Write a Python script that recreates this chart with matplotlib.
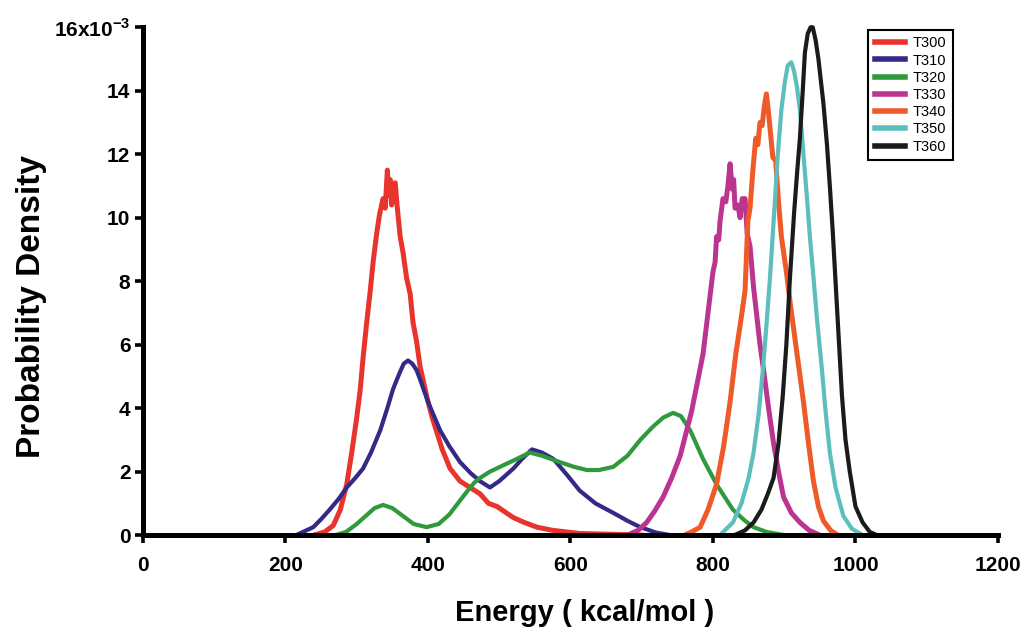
import numpy as np
import matplotlib
matplotlib.use("Agg")
import matplotlib.pyplot as plt

plt.rcParams["font.family"] = ["Liberation Sans", "DejaVu Sans"]

# energy (kcal/mol) and probability density (x1e-3)
e300 = [240, 255, 267, 277, 286, 293, 300, 305, 309, 314, 319, 323, 328, 332, 337, 340, 343, 345,
        347, 349, 351, 354, 357, 361, 365, 370, 375, 379, 384, 389, 394, 399, 406, 413, 420, 431, 445,
        459, 473, 485, 497, 510, 520, 535, 553, 575, 613, 650, 700]
p300 = [0, 0.1, 0.3, 0.8, 1.6, 2.6, 3.7, 4.6, 5.6, 6.7, 7.7, 8.6, 9.5, 10.1, 10.6, 10.3, 11.5, 10.7,
        11.2, 10.4, 11.0, 11.1, 10.3, 9.4, 8.9, 8.1, 7.6, 6.7, 6.1, 5.3, 4.8, 4.3, 3.7, 3.2, 2.7, 2.1, 1.7,
        1.5, 1.3, 1.0, 0.9, 0.7, 0.55, 0.4, 0.25, 0.15, 0.05, 0.03, 0]

e310 = [215, 239, 250, 262, 275, 286, 298, 309, 320, 333, 343, 351, 360, 366, 372, 378, 384, 389,
        400, 417, 430, 445, 460, 473, 487, 500, 510, 520, 532, 546, 560, 576, 595, 613, 635, 660, 680,
        698, 720, 740]
p310 = [0, 0.25, 0.5, 0.8, 1.15, 1.5, 1.8, 2.1, 2.6, 3.3, 4.0, 4.6, 5.1, 5.4, 5.5, 5.4, 5.2, 4.9,
        4.2, 3.3, 2.8, 2.3, 1.95, 1.7, 1.5, 1.7, 1.9, 2.1, 2.4, 2.7, 2.6, 2.4, 1.9, 1.4, 1.0, 0.7, 0.45,
        0.25, 0.08, 0]

e320 = [270, 285, 300, 315, 325, 337, 350, 365, 380, 398, 415, 430, 442, 454, 465, 473, 487, 501,
        520, 543, 560, 585, 605, 623, 640, 660, 680, 698, 715, 730, 744, 755, 768, 786, 805, 828, 845,
        857, 875, 900]
p320 = [0, 0.1, 0.35, 0.65, 0.85, 0.95, 0.85, 0.6, 0.35, 0.25, 0.35, 0.65, 1.0, 1.35, 1.65, 1.8, 2.0,
        2.15, 2.35, 2.6, 2.5, 2.3, 2.15, 2.05, 2.05, 2.15, 2.5, 3.0, 3.4, 3.7, 3.85, 3.75, 3.3, 2.4, 1.6,
        0.8, 0.45, 0.25, 0.1, 0]

e330 = [680, 695, 707, 718, 730, 742, 754, 762, 770, 778, 786, 793, 800, 803, 805, 808, 810, 814,
        818, 821, 824, 827, 829, 831, 835, 838, 841, 845, 848, 852, 857, 862, 866, 871, 878, 885, 892,
        899, 910, 922, 935, 950]
p330 = [0, 0.15, 0.4, 0.75, 1.2, 1.8, 2.5, 3.2, 3.9, 4.8, 5.7, 7.0, 8.3, 8.6, 9.4, 9.3, 9.9, 10.6,
        10.5, 11.0, 11.7, 10.9, 11.2, 10.3, 10.4, 10.0, 10.6, 10.6, 9.5, 9.1, 7.8, 6.8, 6.0, 5.2, 4.0,
        2.9, 2.0, 1.2, 0.7, 0.4, 0.15, 0]

e340 = [760, 770, 782, 793, 805, 815, 824, 832, 840, 845, 849, 852, 856, 860, 863, 866, 869, 872,
        875, 878, 881, 884, 888, 892, 896, 903, 909, 915, 921, 927, 934, 941, 948, 955, 965, 975]
p340 = [0, 0.1, 0.25, 0.8, 1.6, 2.8, 4.2, 5.7, 6.9, 7.7, 9.9, 10.3, 11.5, 12.5, 12.3, 13.0, 12.9,
        13.5, 13.9, 13.3, 12.6, 11.9, 11.8, 10.5, 9.4, 8.3, 7.2, 6.2, 5.2, 4.2, 2.9, 1.7, 0.9, 0.45,
        0.15, 0]

e350 = [810, 828, 840, 850, 857, 864, 870, 875, 880, 886, 891, 896, 901, 905, 910, 914, 918, 922,
        927, 932, 936, 940, 946, 953, 958, 964, 972, 983, 995, 1010]
p350 = [0, 0.4, 1.0, 1.8, 2.6, 3.8, 5.2, 6.6, 8.1, 10.2, 12.0, 13.4, 14.3, 14.8, 14.9, 14.6, 14.1,
        13.4, 12.0, 10.6, 9.4, 8.4, 6.8, 5.2, 3.9, 2.6, 1.5, 0.6, 0.2, 0]

e360 = [830, 845, 857, 868, 877, 885, 892, 898, 903, 908, 914, 918, 922, 926, 929, 933, 937, 940,
        944, 948, 951, 955, 960, 964, 968, 971, 976, 981, 986, 992, 1000, 1010, 1020, 1030]
p360 = [0, 0.15, 0.4, 0.8, 1.3, 1.8, 2.9, 4.4, 6.0, 8.1, 10.2, 11.4, 12.5, 14.0, 15.2, 15.8, 16.0,
        16.0, 15.6, 15.0, 14.4, 13.6, 12.3, 11.0, 9.6, 8.4, 6.4, 4.4, 3.0, 2.0, 0.9, 0.4, 0.1, 0]

labels = ["T300", "T310", "T320", "T330", "T340", "T350", "T360"]
colors = ["#e8342c", "#322a86", "#2f9a3c", "#bb3590", "#ee5a28", "#5cbfbd", "#1b1b1b"]
series = [(e300, p300), (e310, p310), (e320, p320), (e330, p330),
          (e340, p340), (e350, p350), (e360, p360)]
widths = [3.6, 3.0, 3.0, 3.6, 3.6, 3.0, 3.0]

fig = plt.figure(figsize=(10.33, 6.34), dpi=100)
ax = fig.add_axes([0.1384, 0.156, 0.8277, 0.801])

for (x, y), c, lab, w in zip(series, colors, labels, widths):
    ax.plot(x, y, color=c, lw=w, label=lab, clip_on=False, zorder=2)

ax.set_xlim(0, 1200)
ax.set_ylim(0, 16)
ax.set_xticks(np.arange(0, 1201, 200))
yt = np.arange(0, 17, 2)
ax.set_yticks(yt)
ax.set_yticklabels([str(v) for v in yt[:-1]] + [r"16x10$^{\mathregular{-3}}$"])

for s in ["top", "right"]:
    ax.spines[s].set_visible(False)
for s in ["left", "bottom"]:
    ax.spines[s].set_linewidth(3.6)
    ax.spines[s].set_zorder(5)
ax.tick_params(direction="out", length=6, width=2.6, labelsize=15)
ax.tick_params(axis="x", pad=9)
ax.tick_params(axis="y", pad=3)
for t in ax.get_xticklabels() + ax.get_yticklabels():
    t.set_fontweight("bold")

ax.set_xlabel("Energy ( kcal/mol )", fontsize=21, fontweight="bold")
ax.set_ylabel("Probability Density", fontsize=24, fontweight="bold")
ax.xaxis.set_label_coords(0.517, -0.126)
ax.yaxis.set_label_coords(-0.112, 0.45)

leg = ax.legend(loc="upper left", bbox_to_anchor=(0.848, 0.995), borderaxespad=0,
                fontsize=10.5, handlelength=2.1, labelspacing=0.22, handletextpad=0.5,
                borderpad=0.45, fancybox=False, framealpha=1)
leg.get_frame().set_edgecolor("black")
leg.get_frame().set_linewidth(1.5)
for h in leg.get_lines():
    h.set_linewidth(4)

fig.savefig("out.png", dpi=100)
